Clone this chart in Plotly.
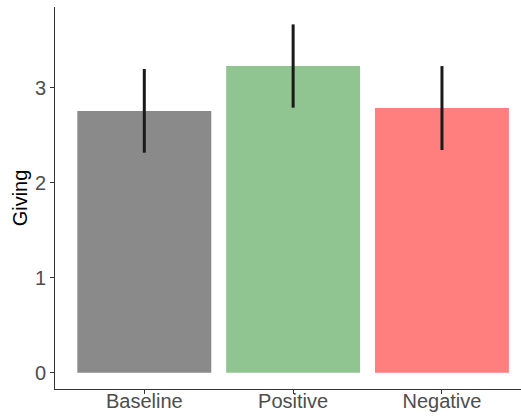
import plotly.graph_objects as go

categories = ["Baseline", "Positive", "Negative"]
means = [2.755, 3.228, 2.786]
lower = [2.316, 2.790, 2.344]
upper = [3.197, 3.667, 3.228]
colors = ["#8a8a8a", "#90c490", "#ff7f7f"]
y_ticks = [0, 1, 2, 3]

err_plus = [u - m for u, m in zip(upper, means)]
err_minus = [m - l for m, l in zip(means, lower)]

fig = go.Figure(go.Bar(
    x=categories, y=means, marker=dict(color=colors, line=dict(width=0)),
    width=0.9,
    error_y=dict(type="data", symmetric=False, array=err_plus, arrayminus=err_minus,
                 width=0, thickness=3, color="#1a1a1a"),
))

fig.update_layout(
    width=521, height=416,
    margin=dict(l=55, r=0, t=7, b=27),
    plot_bgcolor="white", paper_bgcolor="white",
    font=dict(family="Liberation Sans, Arial, sans-serif", size=20, color="#4d4d4d"),
    showlegend=False,
)
fig.update_xaxes(
    range=[-0.6, 2.531], showline=True, linecolor="#333333", linewidth=1,
    ticks="outside", ticklen=4, tickcolor="#333333", showgrid=False, zeroline=False,
    tickfont=dict(size=20, color="#4d4d4d"), automargin=False, ticklabelstandoff=-10,
)
fig.update_yaxes(
    range=[-0.172, 3.85], showline=True, linecolor="#333333", linewidth=1,
    ticks="outside", ticklen=4, tickcolor="#333333", showgrid=False, zeroline=False,
    tickvals=y_ticks, tickfont=dict(size=20, color="#4d4d4d"), automargin=False,
    title=dict(text="Giving", font=dict(size=20, color="black"), standoff=1),
)

fig.write_html(
    "out.html",
    config={"displayModeBar": False},
    post_script="document.body.style.margin='0';document.body.style.overflow='hidden';",
)
